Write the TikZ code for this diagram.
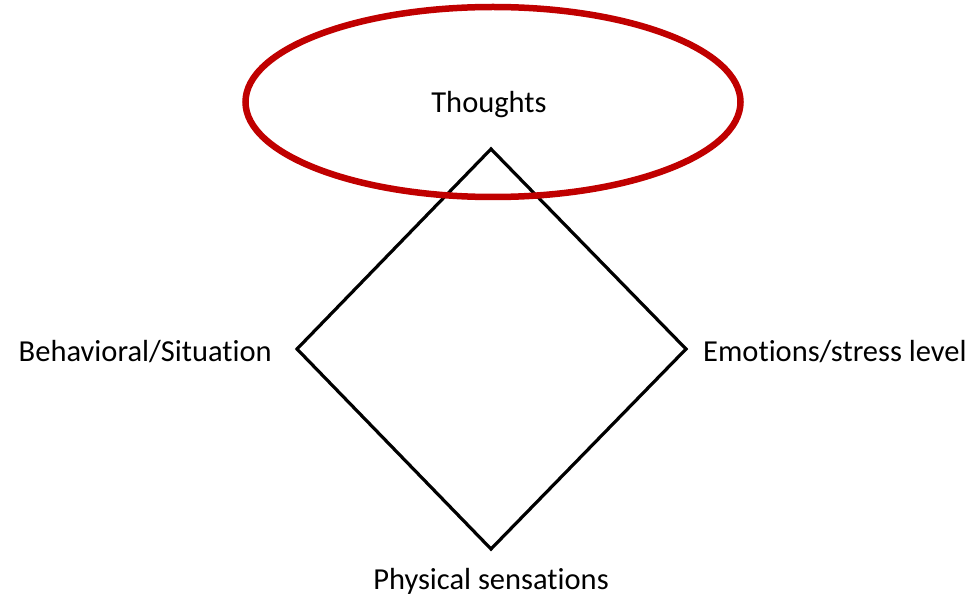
\documentclass[tikz,border=0pt]{standalone}
\usepackage{fontspec}
\setmainfont[Ligatures=NoCommon]{Carlito}
\usetikzlibrary{positioning,shapes.geometric}

\begin{document}
\begin{tikzpicture}[
    x=1pt, y=-1pt,
    font=\fontsize{30.5}{34}\selectfont,
    lbl/.style={inner sep=0pt, text=black},
    kant/.style={draw=black, line width=3.2pt, line join=miter},
    ring/.style={ellipse, draw={rgb,255:red,192;green,0;blue,0}, line width=6.5pt, minimum width=495pt, minimum height=190pt, inner sep=0pt},
]
    \useasboundingbox (0,0) rectangle (977,596);
    % corners of the diamond
    \coordinate (top) at (491,149);
    \coordinate (rgt) at (686,349);
    \coordinate (bot) at (491,549);
    \coordinate (lft) at (297,349);
    \draw[kant] (top) -- (rgt) -- (bot) -- (lft) -- cycle;
    \node[ring] (thoughts) at (493,102) {};
    \node[lbl] (th) at (489,105) {Thoughts};
    \node[lbl, anchor=east] (beh) at (272,352) {Behavioral/Situation};
    \node[lbl, anchor=west] (emo) at (703,352) {Emotions/stress level};
    \node[lbl, below=19pt of bot] (phys) {Physical sensations};
\end{tikzpicture}
\end{document}
